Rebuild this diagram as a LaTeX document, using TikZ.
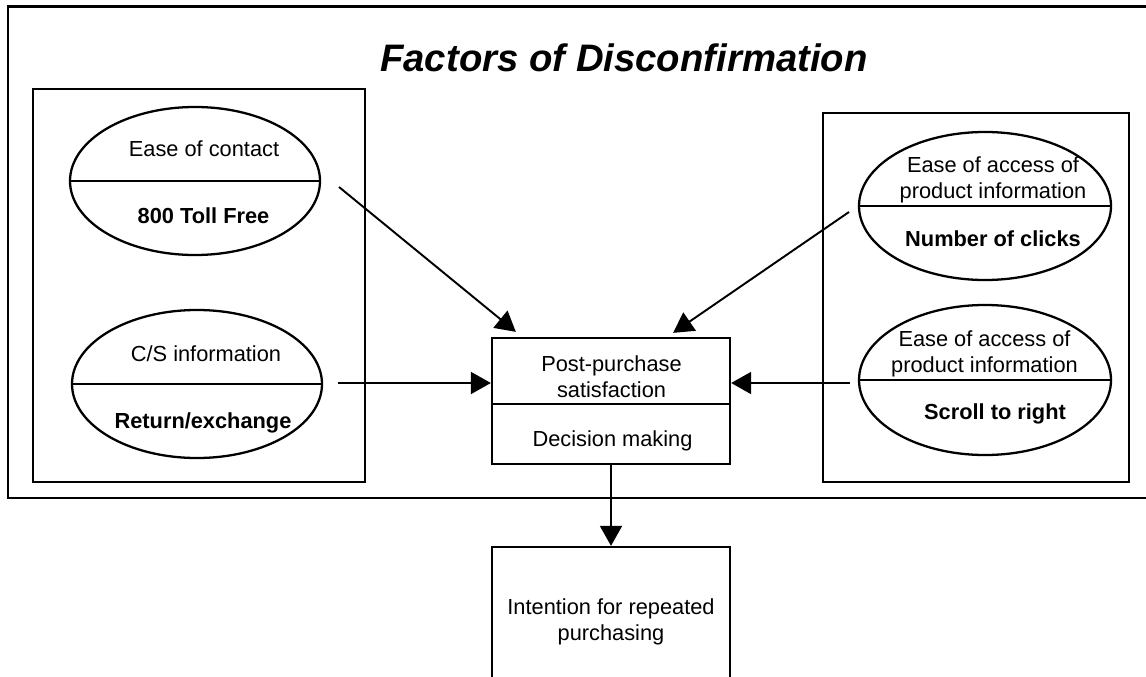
\documentclass[tikz,border=0pt]{standalone}
\usepackage{fontspec}
\setmainfont{Liberation Sans}
\usetikzlibrary{shapes.geometric, arrows.meta}

\begin{document}
\begin{tikzpicture}[line width=1.3pt,
        oval/.style={ellipse, draw, minimum width=5cm, minimum height=2.96cm, inner sep=0pt},
        box/.style={rectangle, draw, minimum width=4.76cm, inner sep=0pt},
        txt/.style={anchor=base, inner sep=0pt, align=center, font=\fontsize{12.4}{14.7}\selectfont},
        txtb/.style={txt, font=\fontsize{12.4}{14.7}\selectfont\bfseries},
        arr/.style={line width=1.1pt, -{Triangle[length=0.4cm, width=0.44cm]}}]
        \useasboundingbox (0,0) rectangle (22.92,-13.54);
        \clip (0,0) rectangle (22.92,-13.54);

        % frames
        \draw (0.16,-0.13) rectangle (23.4,-9.96);
        \draw (0.66,-1.78) rectangle (7.3,-9.64);
        \draw (16.46,-2.26) rectangle (22.58,-9.64);
        \node[txt, font=\fontsize{21.8}{26}\selectfont\bfseries\itshape] (T) at (12.48,-1.44) {Factors of Disconfirmation};

        % factors
        \node[oval] (A) at (3.9,-3.62) {};
        \node[oval] (B) at (3.94,-7.68) {};
        \node[oval, minimum width=5.04cm] (C) at (19.7,-4.12) {};
        \node[oval, minimum width=5.04cm, minimum height=3cm] (D) at (19.7,-7.6) {};
        \draw (A.west) -- (A.east);
        \draw (B.west) -- (B.east);
        \draw (C.west) -- (C.east);
        \draw (D.west) -- (D.east);

        \node[txt] (A1) at (4.08,-3.12) {Ease of contact};
        \node[txtb] (A2) at (4.07,-4.46) {800 Toll Free};
        \node[txt] (B1) at (4.12,-7.22) {C/S information};
        \node[txtb] (B2) at (4.06,-8.56) {Return/exchange};
        \node[txt] (C1) at (19.86,-3.96) {Ease of access of\\product information};
        \node[txtb] (C2) at (19.86,-4.92) {Number of clicks};
        \node[txt] (D1) at (19.69,-7.44) {Ease of access of\\product information};
        \node[txtb] (D2) at (19.9,-8.38) {Scroll to right};

        % outcome
        \node[box, minimum height=2.52cm] (P) at (12.22,-8.02) {};
        \draw ([yshift=-0.06cm]P.west) -- ([yshift=-0.06cm]P.east);
        \node[txt] (P1) at (12.23,-7.94) {Post-purchase\\satisfaction};
        \node[txt] (P2) at (12.25,-8.92) {Decision making};
        \node[box, minimum height=2.72cm] (R) at (12.22,-12.3) {};
        \node[txt] (R1) at (12.22,-12.8) {Intention for repeated\\purchasing};

        \coordinate (a) at (6.78,-3.74);
        \coordinate (b) at (6.76,-7.66);
        \coordinate (c) at (16.98,-4.24);
        \coordinate (d) at (17.0,-7.66);
        \draw[arr] (a) -- ([shift={(0.5,0.1)}]P.north west);
        \draw[arr] (b) -- (b -| P.west);
        \draw[arr] (c) -- ([shift={(-1.16,0.08)}]P.north east);
        \draw[arr] (d) -- (d -| P.east);
        \draw[arr] (P.south) -- (R.north);
    \end{tikzpicture}
\end{document}
